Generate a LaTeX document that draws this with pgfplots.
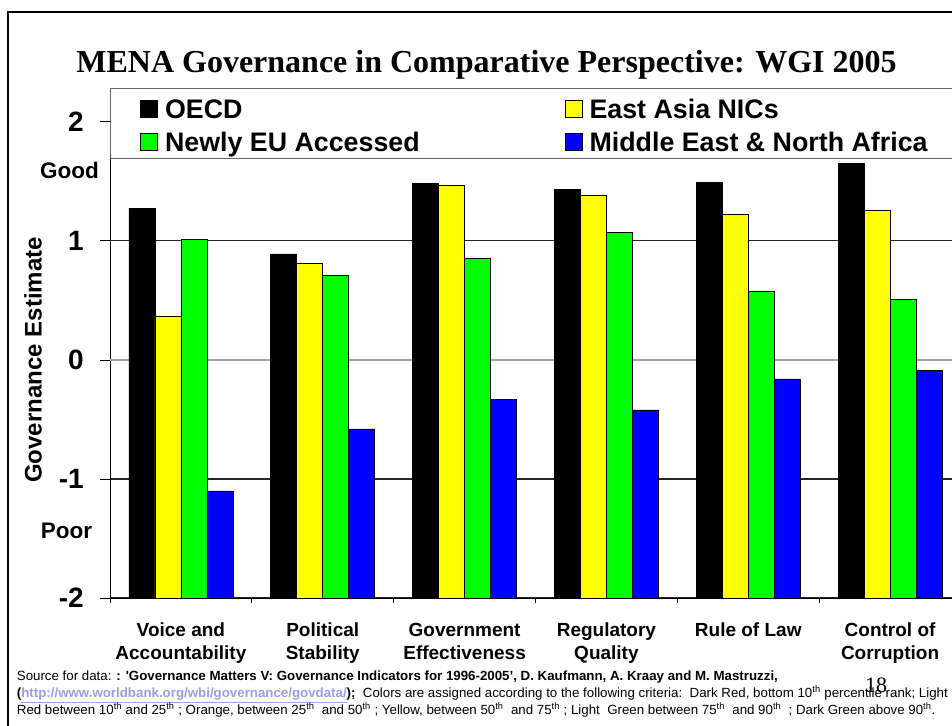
\documentclass[border=0pt]{standalone}
\usepackage{fontspec}
\setmainfont{Liberation Sans}
\newfontfamily\seriffont{Liberation Serif}
\usepackage{pgfplots}
\pgfplotsset{compat=1.18}
\usepackage{pgfplotstable}

\definecolor{oecd}{HTML}{000000}
\definecolor{eanic}{HTML}{FFFF00}
\definecolor{neweu}{HTML}{00FF00}
\definecolor{mena}{HTML}{0000FF}
\definecolor{urlcol}{HTML}{9C9CEE}

% WGI 2005 governance estimates
\pgfplotstableread{
cat oecd eanic neweu mena
0   1.27 0.37  1.01  -1.10
1   0.89 0.81  0.71  -0.58
2   1.48 1.47  0.85  -0.33
3   1.43 1.38  1.07  -0.42
4   1.49 1.22  0.58  -0.16
5   1.65 1.26  0.51  -0.09
}\wgi

\begin{document}
\begin{tikzpicture}
\useasboundingbox (0pt,0pt) rectangle (952pt,-725pt);
\clip (0pt,0pt) rectangle (952pt,-725pt);
\fill[white] (0pt,0pt) rectangle (952pt,-725pt);
% slide frame
\draw[line width=2.2pt] (8pt,-800pt) -- (8pt,-12.3pt) -- (1000pt,-12.3pt);

\node[anchor=base, inner sep=0pt, font=\seriffont\bfseries\fontsize{32}{38}\selectfont]
  at (486.5pt,-72.7pt) {MENA Governance in Comparative Perspective: WGI 2005};

% bars start at -2, so the values are plotted on an axis shifted by +2
\begin{axis}[
  at={(110pt,-598pt)}, anchor=south west,
  scale only axis, width=851pt, height=510pt,
  xmin=-0.5, xmax=5.5, ymin=0, ymax=4.284,
  axis x line*=bottom, axis y line*=left,
  axis line style={black, line width=0.8pt},
  ybar=0pt, bar width=26pt,
  xtick={0,...,5},
  xticklabels={{Voice and\\Accountability},{Political\\Stability},{Government\\Effectiveness},{Regulatory\\Quality},{Rule of Law},{Control of\\Corruption}},
  xticklabel style={align=center, anchor=north, inner sep=0pt, yshift=-15pt,
    font=\bfseries\fontsize{19}{23}\selectfont},
  major x tick style={draw=none},
  minor xtick={-0.5,0.5,...,5.5},
  minor x tick style={black, line width=0.8pt},
  minor tick length=5pt,
  tick align=outside,
  ytick={0,1,3,4},
  yticklabels={{-2},{-1},{1},{2}},
  extra y ticks={2}, extra y tick labels={0},
  extra y tick style={major grid style={gray!75, line width=1.6pt}},
  major tick length=10pt,
  y tick style={black, line width=0.8pt},
  yticklabel style={inner sep=0pt, anchor=east, font=\bfseries\fontsize{28}{34}\selectfont},
  yticklabel shift=16pt,
  ymajorgrids,
  major grid style={black!85, line width=1.1pt},
  ylabel={Governance Estimate},
  every axis y label/.style={at={(rel axis cs:0,0.4667)}, xshift=-77pt, rotate=90,
    anchor=center, font=\bfseries\fontsize{24}{28}\selectfont},
  legend columns=2,
  legend cell align=left,
  legend style={at={(0.0353,0.978)}, anchor=north west, draw=none, fill=none,
    inner sep=0pt, font=\bfseries\fontsize{26.8}{32}\selectfont,
    nodes={inner xsep=7pt, inner ysep=0pt, text height=19pt, text depth=0pt},
    row sep=13.7pt,
    /tikz/every even column/.append style={column sep=138pt}},
  legend image code/.code={\draw[#1, draw=black, line width=0.8pt] (0pt,-8.5pt) rectangle (17pt,8.5pt);},
  every axis plot/.append style={draw=black, line width=0.7pt},
]
\addplot[fill=oecd]  table[x=cat, y expr=\thisrow{oecd}+2]  {\wgi};
\addlegendentry{OECD}
\addplot[fill=eanic] table[x=cat, y expr=\thisrow{eanic}+2] {\wgi};
\addlegendentry{East Asia NICs}
\addplot[fill=neweu] table[x=cat, y expr=\thisrow{neweu}+2] {\wgi};
\addlegendentry{Newly EU Accessed}
\addplot[fill=mena]  table[x=cat, y expr=\thisrow{mena}+2]  {\wgi};
\addlegendentry{Middle East \& North Africa}
% legend frame across the top of the plot
\draw[gray!80!black, fill=white, line width=1pt] (rel axis cs:0,1) rectangle (rel axis cs:1.05,0.8608);
\end{axis}

\node[anchor=base west, inner sep=0pt, font=\bfseries\fontsize{22.5}{27}\selectfont] at (40pt,-178pt) {Good};
\node[anchor=base west, inner sep=0pt, font=\bfseries\fontsize{22.5}{27}\selectfont] at (40.7pt,-538pt) {Poor};

\begin{scope}[every node/.style={anchor=base west, inner sep=0pt, font=\fontsize{13.3}{15}\selectfont}]
\node at (16.7pt,-680pt) {Source for data: \textbf{: \textquotesingle Governance Matters V: Governance Indicators for 1996-2005’, D. Kaufmann, A. Kraay and M. Mastruzzi,}};
\node at (16.7pt,-697.7pt) {\textbf{(\textcolor{urlcol}{\underline{http://www.worldbank.org/wbi/governance/govdata/}});}\ \ Colors are assigned according to the following criteria:\ \ Dark Red, bottom 10\textsuperscript{th} percentile rank; Light};
\node at (16.7pt,-714.3pt) {Red between 10\textsuperscript{th} and 25\textsuperscript{th} ; Orange, between 25\textsuperscript{th}\ \ and 50\textsuperscript{th} ; Yellow, between 50\textsuperscript{th}\ \ and 75\textsuperscript{th} ; Light\ \ Green between 75\textsuperscript{th}\ \ and 90\textsuperscript{th}\ \ ; Dark Green above 90\textsuperscript{th}.};
\end{scope}
\node[anchor=base, inner sep=0pt, font=\seriffont\fontsize{22}{26}\selectfont] at (876pt,-692pt) {18};
\end{tikzpicture}
\end{document}
